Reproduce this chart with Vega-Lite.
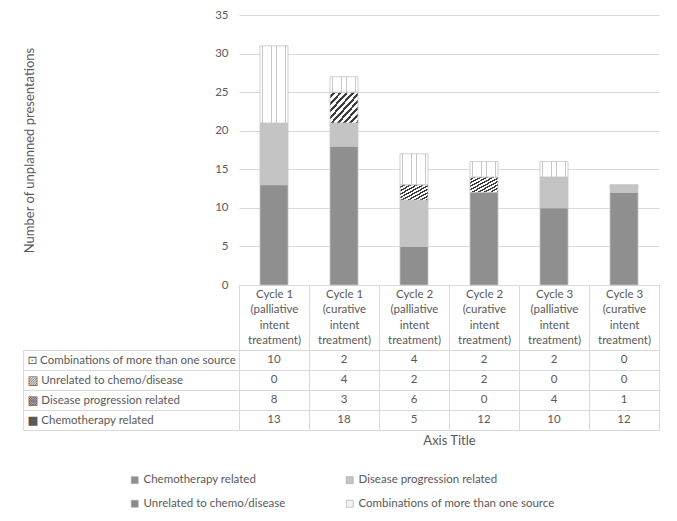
{
  "$schema": "https://vega.github.io/schema/vega-lite/v6.json",
  "padding": {"left": 22, "top": 9, "right": 10, "bottom": 5},
  "background": "white",
  "config": {
    "font": "Lato, 'DejaVu Sans'",
    "view": {"stroke": null},
    "axis": {
      "labelColor": "#595959",
      "titleColor": "#595959",
      "labelFontSize": 11.5,
      "titleFontSize": 13,
      "titleFontWeight": "normal",
      "gridColor": "#d9d9d9",
      "tickColor": "#d9d9d9",
      "domainColor": "#d9d9d9"
    },
    "legend": {"labelColor": "#595959", "labelFontSize": 11.5}
  },
  "data": {
    "values": [
      {"cycle": "Cycle 1 (palliative intent treatment)", "source": "Chemotherapy related", "n": 13},
      {"cycle": "Cycle 1 (palliative intent treatment)", "source": "Disease progression related", "n": 8},
      {"cycle": "Cycle 1 (palliative intent treatment)", "source": "Unrelated to chemo/disease", "n": 0},
      {"cycle": "Cycle 1 (palliative intent treatment)", "source": "Combinations of more than one source", "n": 10},
      {"cycle": "Cycle 1 (curative intent treatment)", "source": "Chemotherapy related", "n": 18},
      {"cycle": "Cycle 1 (curative intent treatment)", "source": "Disease progression related", "n": 3},
      {"cycle": "Cycle 1 (curative intent treatment)", "source": "Unrelated to chemo/disease", "n": 4},
      {"cycle": "Cycle 1 (curative intent treatment)", "source": "Combinations of more than one source", "n": 2},
      {"cycle": "Cycle 2 (palliative intent treatment)", "source": "Chemotherapy related", "n": 5},
      {"cycle": "Cycle 2 (palliative intent treatment)", "source": "Disease progression related", "n": 6},
      {"cycle": "Cycle 2 (palliative intent treatment)", "source": "Unrelated to chemo/disease", "n": 2},
      {"cycle": "Cycle 2 (palliative intent treatment)", "source": "Combinations of more than one source", "n": 4},
      {"cycle": "Cycle 2 (curative intent treatment)", "source": "Chemotherapy related", "n": 12},
      {"cycle": "Cycle 2 (curative intent treatment)", "source": "Disease progression related", "n": 0},
      {"cycle": "Cycle 2 (curative intent treatment)", "source": "Unrelated to chemo/disease", "n": 2},
      {"cycle": "Cycle 2 (curative intent treatment)", "source": "Combinations of more than one source", "n": 2},
      {"cycle": "Cycle 3 (palliative intent treatment)", "source": "Chemotherapy related", "n": 10},
      {"cycle": "Cycle 3 (palliative intent treatment)", "source": "Disease progression related", "n": 4},
      {"cycle": "Cycle 3 (palliative intent treatment)", "source": "Unrelated to chemo/disease", "n": 0},
      {"cycle": "Cycle 3 (palliative intent treatment)", "source": "Combinations of more than one source", "n": 2},
      {"cycle": "Cycle 3 (curative intent treatment)", "source": "Chemotherapy related", "n": 12},
      {"cycle": "Cycle 3 (curative intent treatment)", "source": "Disease progression related", "n": 1},
      {"cycle": "Cycle 3 (curative intent treatment)", "source": "Unrelated to chemo/disease", "n": 0},
      {"cycle": "Cycle 3 (curative intent treatment)", "source": "Combinations of more than one source", "n": 0}
    ]
  },
  "bounds": "flush",
  "spacing": 65,
  "resolve": {"scale": {"color": "shared"}, "legend": {"color": "shared"}},
  "vconcat": [
    {
      "width": 420,
      "height": 270,
      "transform": [
        {"filter": "datum.n > 0"},
        {"calculate": "indexof(['Chemotherapy related', 'Disease progression related', 'Unrelated to chemo/disease', 'Combinations of more than one source'], datum.source)", "as": "stack_rank"}
      ],
      "mark": {"type": "bar", "width": {"band": 0.4}, "stroke": "#c3c3c3", "strokeWidth": 0.8},
      "encoding": {
        "x": {
          "field": "cycle",
          "type": "nominal",
          "sort": null,
          "scale": {"paddingInner": 0, "paddingOuter": 0},
          "axis": {
            "title": null,
            "tickBand": "extent",
            "tickSize": 65,
            "domain": true,
            "labelAngle": 0,
            "labelBaseline": "top",
            "labelPadding": -62,
            "labelLineHeight": 15.5,
            "labelOverlap": false,
            "labelLimit": 0,
            "labelExpr": "split(replace(replace(datum.label, ' (', '|('), ' intent ', '|intent|'), '|')"
          }
        },
        "y": {
          "field": "n",
          "type": "quantitative",
          "stack": "zero",
          "scale": {"domain": [0, 35]},
          "axis": {
            "title": "Number of unplanned presentations",
            "values": [0, 5, 10, 15, 20, 25, 30, 35],
            "domain": false,
            "ticks": false,
            "labelPadding": 11,
            "titlePadding": 178
          }
        },
        "order": {"field": "stack_rank", "type": "quantitative", "sort": "ascending"},
        "color": {
          "condition": [
            {"test": "datum.source === 'Unrelated to chemo/disease'", "value": {"gradient": "linear", "x1": 0, "y1": 0, "x2": 1, "y2": 1, "stops": [
                {"offset": 0, "color": "#ffffff"}, {"offset": 0.0611, "color": "#ffffff"}, {"offset": 0.0611, "color": "#3c3c3c"}, {"offset": 0.1111, "color": "#3c3c3c"},
                {"offset": 0.1111, "color": "#ffffff"}, {"offset": 0.1722, "color": "#ffffff"}, {"offset": 0.1722, "color": "#3c3c3c"}, {"offset": 0.2222, "color": "#3c3c3c"},
                {"offset": 0.2222, "color": "#ffffff"}, {"offset": 0.2833, "color": "#ffffff"}, {"offset": 0.2833, "color": "#3c3c3c"}, {"offset": 0.3333, "color": "#3c3c3c"},
                {"offset": 0.3333, "color": "#ffffff"}, {"offset": 0.3944, "color": "#ffffff"}, {"offset": 0.3944, "color": "#3c3c3c"}, {"offset": 0.4444, "color": "#3c3c3c"},
                {"offset": 0.4444, "color": "#ffffff"}, {"offset": 0.5056, "color": "#ffffff"}, {"offset": 0.5056, "color": "#3c3c3c"}, {"offset": 0.5556, "color": "#3c3c3c"},
                {"offset": 0.5556, "color": "#ffffff"}, {"offset": 0.6167, "color": "#ffffff"}, {"offset": 0.6167, "color": "#3c3c3c"}, {"offset": 0.6667, "color": "#3c3c3c"},
                {"offset": 0.6667, "color": "#ffffff"}, {"offset": 0.7278, "color": "#ffffff"}, {"offset": 0.7278, "color": "#3c3c3c"}, {"offset": 0.7778, "color": "#3c3c3c"},
                {"offset": 0.7778, "color": "#ffffff"}, {"offset": 0.8389, "color": "#ffffff"}, {"offset": 0.8389, "color": "#3c3c3c"}, {"offset": 0.8889, "color": "#3c3c3c"},
                {"offset": 0.8889, "color": "#ffffff"}, {"offset": 0.95, "color": "#ffffff"}, {"offset": 0.95, "color": "#3c3c3c"}, {"offset": 1, "color": "#3c3c3c"}
              ]}},
            {"test": "datum.source === 'Combinations of more than one source'", "value": {"gradient": "linear", "x1": 0, "y1": 0, "x2": 1, "y2": 0, "stops": [
                {"offset": 0, "color": "#ffffff"}, {"offset": 0.07, "color": "#ffffff"}, {"offset": 0.07, "color": "#c6c6c6"}, {"offset": 0.1, "color": "#c6c6c6"}, {"offset": 0.1, "color": "#ffffff"},
                {"offset": 0.237, "color": "#ffffff"}, {"offset": 0.237, "color": "#c6c6c6"}, {"offset": 0.267, "color": "#c6c6c6"}, {"offset": 0.267, "color": "#ffffff"},
                {"offset": 0.403, "color": "#ffffff"}, {"offset": 0.403, "color": "#c6c6c6"}, {"offset": 0.433, "color": "#c6c6c6"}, {"offset": 0.433, "color": "#ffffff"},
                {"offset": 0.57, "color": "#ffffff"}, {"offset": 0.57, "color": "#c6c6c6"}, {"offset": 0.6, "color": "#c6c6c6"}, {"offset": 0.6, "color": "#ffffff"},
                {"offset": 0.737, "color": "#ffffff"}, {"offset": 0.737, "color": "#c6c6c6"}, {"offset": 0.767, "color": "#c6c6c6"}, {"offset": 0.767, "color": "#ffffff"},
                {"offset": 0.903, "color": "#ffffff"}, {"offset": 0.903, "color": "#c6c6c6"}, {"offset": 0.933, "color": "#c6c6c6"}, {"offset": 0.933, "color": "#ffffff"},
                {"offset": 1, "color": "#ffffff"}
              ]}}
          ],
          "field": "source",
          "type": "nominal",
          "scale": {
            "domain": ["Chemotherapy related", "Disease progression related", "Unrelated to chemo/disease", "Combinations of more than one source"],
            "range": ["#8f8f8f", "#c4c4c4", "#8a8a8a", "#f2f2f2"]
          },
          "legend": {
            "title": null,
            "orient": "none",
            "legendX": -110,
            "legendY": 459,
            "direction": "horizontal",
            "columns": 2,
            "columnPadding": 58,
            "rowPadding": 11,
            "symbolType": "square",
            "symbolSize": 49,
            "symbolStrokeColor": "#a6a6a6",
            "symbolStrokeWidth": 0.6,
            "labelOffset": 3,
            "labelLimit": 0
          }
        }
      }
    },
    {
      "width": 420,
      "height": 80,
      "layer": [
        {
          "mark": {"type": "text", "fontSize": 11.5, "color": "#595959"},
          "encoding": {
            "x": {
              "field": "cycle",
              "type": "nominal",
              "sort": null,
              "scale": {"paddingInner": 0, "paddingOuter": 0},
              "axis": {
                "title": "Axis Title",
                "tickBand": "extent",
                "grid": true,
                "ticks": false,
                "labels": false,
                "domain": false,
                "titlePadding": 4
              }
            },
            "y": {
              "field": "source",
              "type": "nominal",
              "scale": {
                "domain": ["Combinations of more than one source", "Unrelated to chemo/disease", "Disease progression related", "Chemotherapy related"],
                "paddingInner": 0,
                "paddingOuter": 0
              },
              "axis": {
                "title": null,
                "tickBand": "extent",
                "grid": true,
                "ticks": true,
                "tickSize": 216,
                "domain": false,
                "labelAlign": "left",
                "labelPadding": -4,
                "labelLimit": 0,
                "labelExpr": "datum.value === 'Chemotherapy related' ? '■ ' + datum.label : datum.value === 'Disease progression related' ? '▩ ' + datum.label : datum.value === 'Unrelated to chemo/disease' ? '▨ ' + datum.label : datum.value === 'Combinations of more than one source' ? '⊡ ' + datum.label : ''"
              }
            },
            "text": {"field": "n", "type": "quantitative"}
          }
        },
        {
          "mark": {"type": "text", "opacity": 0},
          "encoding": {
            "x": {"field": "cycle", "type": "nominal", "sort": null},
            "y": {
              "field": "source",
              "type": "nominal",
              "axis": {"orient": "left", "offset": 216, "title": null, "labels": false, "ticks": false, "grid": false, "domain": true}
            },
            "text": {"field": "n", "type": "quantitative"}
          }
        }
      ],
      "resolve": {"axis": {"y": "independent"}}
    }
  ]
}
